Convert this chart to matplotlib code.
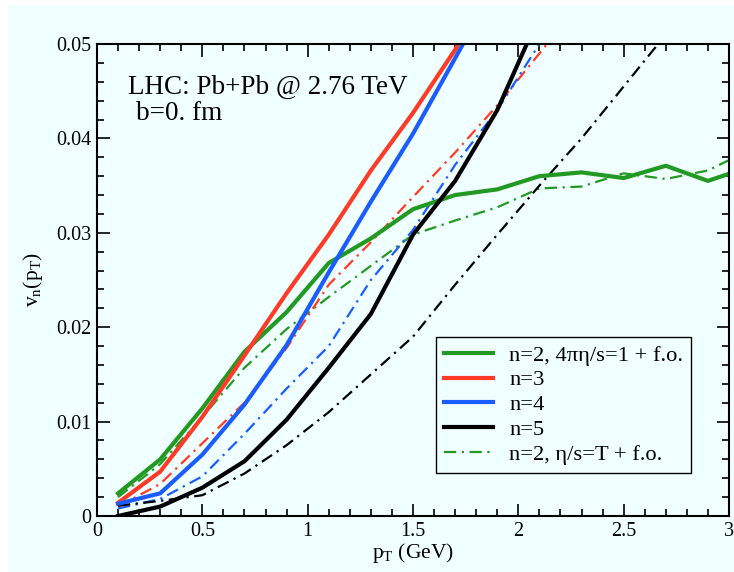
import matplotlib
matplotlib.use("Agg")
import matplotlib.pyplot as plt
from matplotlib.patches import Rectangle
from matplotlib.lines import Line2D
from matplotlib.ticker import MultipleLocator

plt.rcParams['font.family'] = ['Liberation Serif', 'DejaVu Serif']
plt.rcParams['mathtext.fontset'] = 'custom'
plt.rcParams['mathtext.rm'] = 'Liberation Serif'
plt.rcParams['mathtext.it'] = 'Liberation Serif:italic'

BG = '#f0ffff'
GREEN = '#229922'
RED = '#ff3a26'
BLUE = '#1a5cff'
BLACK = '#000000'

pt = [0.1, 0.3, 0.5, 0.7, 0.9, 1.1, 1.3, 1.5, 1.7, 1.9, 2.1, 2.3, 2.5, 2.7, 2.9, 3.1]

# solid: 4 pi eta/s = 1 + f.o.
v2_solid = [0.0024, 0.0060, 0.0114, 0.0174, 0.0216, 0.0268, 0.0294, 0.0325, 0.0340, 0.0346,
            0.0360, 0.0364, 0.0358, 0.0371, 0.0355, 0.0370]
v3_solid = [0.0014, 0.0047, 0.0105, 0.0170, 0.0236, 0.0298, 0.0366, 0.0427, 0.0494, 0.0570]
v4_solid = [0.0013, 0.0024, 0.0065, 0.0118, 0.0181, 0.0258, 0.0333, 0.0405, 0.0485, 0.0565]
v5_solid = [0.0000, 0.0010, 0.0030, 0.0058, 0.0102, 0.0157, 0.0214, 0.0298, 0.0355, 0.0430, 0.0530]

# dash-dot: eta/s = T + f.o.
v2_dd = [0.0020, 0.0055, 0.0105, 0.0157, 0.0198, 0.0232, 0.0265, 0.0298, 0.0313, 0.0327,
         0.0347, 0.0349, 0.0363, 0.0357, 0.0366, 0.0388]
v3_dd = [0.0010, 0.0034, 0.0077, 0.0120, 0.0178, 0.0245, 0.0290, 0.0338, 0.0385, 0.0435, 0.0490, 0.0545]
v4_dd = [0.0008, 0.0018, 0.0042, 0.0087, 0.0135, 0.0180, 0.0250, 0.0303, 0.0372, 0.0430, 0.0500, 0.0560]
v5_dd = [0.0011, 0.0016, 0.0022, 0.0045, 0.0075, 0.0110, 0.0150, 0.0190, 0.0245, 0.0298,
         0.0350, 0.0400, 0.0455, 0.0510]

fig = plt.figure(figsize=(7.34, 5.72), dpi=100)
fig.patch.set_facecolor('white')
fig.patches.append(Rectangle((8 / 734, 0), 1 - 8 / 734, 1 - 5 / 572,
                             transform=fig.transFigure, facecolor=BG,
                             edgecolor='none', zorder=-10))

ax = fig.add_axes([97 / 734, 56 / 572, 632 / 734, 472 / 572])
ax.set_facecolor(BG)

lw_s = 3.0
lw_d = 1.6
dd = (0, (5.5, 2.5, 1, 2.5))

ax.plot(pt[:len(v2_dd)], v2_dd, color=GREEN, lw=lw_d, linestyle=dd)
ax.plot(pt[:len(v3_dd)], v3_dd, color=RED, lw=lw_d, linestyle=dd)
ax.plot(pt[:len(v4_dd)], v4_dd, color=BLUE, lw=lw_d, linestyle=dd)
ax.plot(pt[:len(v5_dd)], v5_dd, color=BLACK, lw=lw_d, linestyle=dd)

l2, = ax.plot(pt[:len(v2_solid)], v2_solid, color=GREEN, lw=lw_s)
l3, = ax.plot(pt[:len(v3_solid)], v3_solid, color=RED, lw=lw_s)
l4, = ax.plot(pt[:len(v4_solid)], v4_solid, color=BLUE, lw=lw_s)
l5, = ax.plot(pt[:len(v5_solid)], v5_solid, color=BLACK, lw=lw_s)
l2d = Line2D([], [], color=GREEN, lw=lw_d, linestyle=dd)

ax.set_xlim(0, 3)
ax.set_ylim(0, 0.05)
ax.xaxis.set_major_locator(MultipleLocator(0.5))
ax.xaxis.set_minor_locator(MultipleLocator(0.1))
ax.yaxis.set_major_locator(MultipleLocator(0.01))
ax.yaxis.set_minor_locator(MultipleLocator(0.002))
ax.xaxis.set_major_formatter(plt.FuncFormatter(lambda v, p: ('%g' % v)))
ax.yaxis.set_major_formatter(plt.FuncFormatter(lambda v, p: ('%g' % round(v, 3))))
ax.tick_params(which='both', direction='in', top=True, right=True, labelsize=14.5, width=1.2)
ax.tick_params(which='major', length=9, pad=4)
ax.tick_params(which='minor', length=5)
for s in ax.spines.values():
    s.set_linewidth(1.5)

ax.set_xlabel(r'p$_\mathrm{T}$ (GeV)', fontsize=15.5, labelpad=0)
ax.set_ylabel(r'v$_\mathrm{n}$(p$_\mathrm{T}$)', fontsize=15.5, labelpad=8)

ax.text(0.147, 0.0447, 'LHC: Pb+Pb @ 2.76 TeV', fontsize=19.5)
ax.text(0.185, 0.0419, 'b=0. fm', fontsize=19.5)

leg = ax.legend([l2, l3, l4, l5, l2d],
                ['n=2, 4πη/s=1 + f.o.', 'n=3', 'n=4', 'n=5', 'n=2, η/s=T + f.o.'],
                loc='upper left', bbox_to_anchor=(339 / 632, 179 / 472),
                fontsize=16.2, frameon=True, fancybox=False, framealpha=1,
                facecolor=BG, edgecolor='black', handlelength=2.2,
                labelspacing=0.18, borderpad=0.35, handletextpad=0.7, borderaxespad=0)
leg.get_frame().set_linewidth(1.0)

fig.savefig('out.png', dpi=100, facecolor=fig.get_facecolor())
